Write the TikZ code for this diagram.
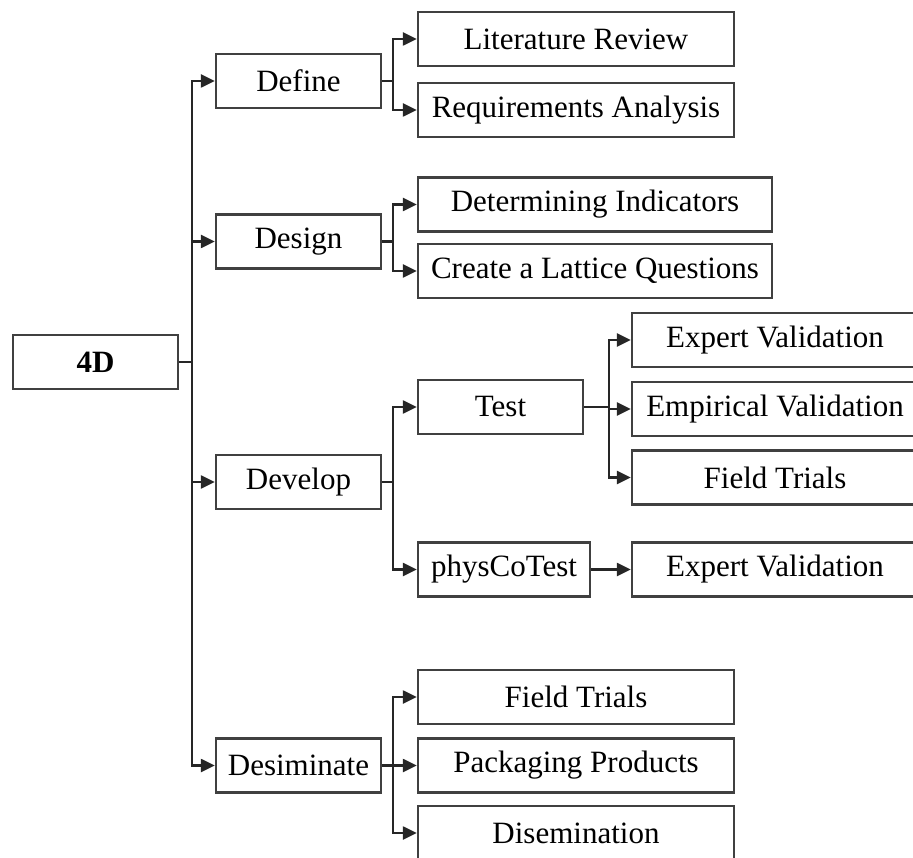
\documentclass[tikz,border=0pt]{standalone}
\usepackage{fontspec}
\setmainfont{Liberation Serif}
\usetikzlibrary{arrows.meta}

\begin{document}
\begin{tikzpicture}[x=1pt,y=-1pt]
\tikzstyle{every node}+=[inner sep=0pt,font=\fontsize{31}{36}\selectfont]
\tikzstyle{box}=[draw=black!75,line width=2.4pt,minimum height=54pt]
\tikzstyle{link}=[draw=black!85,line width=2.4pt]
\tikzstyle{arr}=[link,-{Triangle[length=14pt,width=13pt]}]
\useasboundingbox (0,0) rectangle (913,858);
\node [box,minimum width=165pt,font=\fontsize{31}{36}\selectfont\bfseries] (d4) at (95.5,362) {4D};
\node [box,minimum width=165pt] (define) at (298.5,81) {Define};
\node [box,minimum width=165pt] (design) at (298.5,241.5) {Design};
\node [box,minimum width=165pt] (develop) at (298.5,482) {Develop};
\node [box,minimum width=165pt] (desim) at (298.5,765.5) {Desiminate};
\node [box,minimum width=316pt] (litrev) at (576,39) {Literature Review};
\node [box,minimum width=316pt] (reqan) at (576,110) {Requirements Analysis};
\node [box,minimum width=354pt] (detind) at (595,204.5) {Determining Indicators};
\node [box,minimum width=354pt] (lattice) at (595,271) {Create a Lattice Questions};
\node [box,minimum width=165pt] (test) at (500.5,407) {Test};
\node [box,minimum width=172pt] (phys) at (504,569.5) {physCoTest};
\node [box,minimum width=286pt] (expv) at (775,340) {Expert Validation};
\node [box,minimum width=286pt] (empv) at (775,409) {Empirical Validation};
\node [box,minimum width=286pt] (ftr) at (775,477.5) {Field Trials};
\node [box,minimum width=286pt] (expvb) at (775,569.5) {Expert Validation};
\node [box,minimum width=316pt] (ftrb) at (576,697) {Field Trials};
\node [box,minimum width=316pt] (pack) at (576,765.5) {Packaging Products};
\node [box,minimum width=316pt] (dissem) at (576,833) {Disemination};
\coordinate (trunk) at (192,362);
\coordinate (bdef) at (393,81);
\coordinate (bdes) at (393,241.5);
\coordinate (bdev) at (393,482);
\coordinate (btest) at (609,407);
\coordinate (bdsm) at (393,765.5);
\draw [link] (d4.east) -- (trunk);
\draw [arr] (trunk) |- (define);
\draw [arr] (trunk) |- (design);
\draw [arr] (trunk) |- (develop);
\draw [arr] (trunk) |- (desim);
\draw [link] (define.east) -- (bdef);
\draw [arr] (bdef) |- (litrev);
\draw [arr] (bdef) |- (reqan);
\draw [link] (design.east) -- (bdes);
\draw [arr] (bdes) |- (detind);
\draw [arr] (bdes) |- (lattice);
\draw [link] (develop.east) -- (bdev);
\draw [arr] (bdev) |- (test);
\draw [arr] (bdev) |- (phys);
\draw [link] (test.east) -- (btest);
\draw [arr] (btest) |- (expv);
\draw [arr] (btest) |- (empv);
\draw [arr] (btest) |- (ftr);
\draw [arr] (phys) -- (expvb);
\draw [link] (desim.east) -- (bdsm);
\draw [arr] (bdsm) |- (ftrb);
\draw [arr] (bdsm) |- (pack);
\draw [arr] (bdsm) |- (dissem);
\end{tikzpicture}
\end{document}
